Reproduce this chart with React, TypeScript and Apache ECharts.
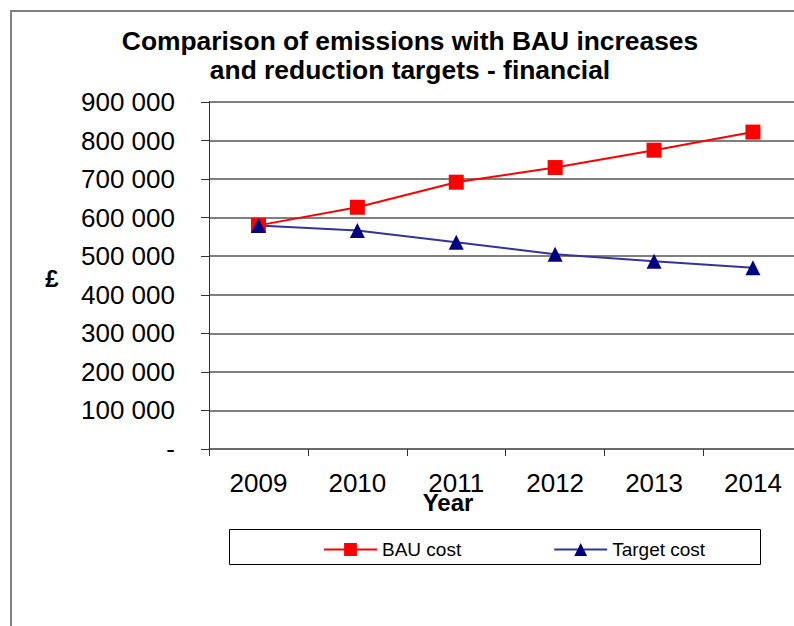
import React, { useEffect, useRef } from "react";
import * as echarts from "echarts";

const categories = ["2009", "2010", "2011", "2012", "2013", "2014"];
const bauCost = [580000, 627000, 692000, 730000, 775000, 822000];
const targetCost = [580000, 567000, 536000, 505000, 487000, 470000];
const titleLines = ["Comparison of emissions with BAU increases", "and reduction targets - financial"];
const seriesNames = ["BAU cost", "Target cost"];

const FONT = "'Liberation Sans', Arial, sans-serif";

function fmt(v: number): string {
  if (v === 0) return "-";
  const s = String(Math.round(v));
  return s.replace(/\B(?=(\d{3})+(?!\d))/g, " ");
}

export default function App() {
  const ref = useRef<HTMLDivElement>(null);
  useEffect(() => {
    if (!ref.current) return;
    const chart = echarts.init(ref.current, null, { renderer: "svg" });
    chart.setOption({
      animation: false,
      backgroundColor: "#ffffff",
      grid: { left: 209, top: 102, height: 347, width: 593.4, outerBoundsMode: "none", containLabel: false },
      graphic: [
        {
          type: "rect",
          shape: { x: 11, y: 11, width: 900, height: 900 },
          style: { fill: "none", stroke: "#808080", lineWidth: 2 },
          silent: true,
          z: -10,
        },
        {
          type: "text",
          style: {
            text: titleLines.join("\n"),
            x: 410,
            y: 26,
            textAlign: "center",
            textVerticalAlign: "top",
            fontFamily: FONT,
            fontWeight: "bold",
            fontSize: 26.4,
            lineHeight: 29,
            fill: "#000",
          },
        },
        {
          type: "text",
          style: {
            text: "£",
            x: 52,
            y: 278,
            textAlign: "center",
            textVerticalAlign: "middle",
            fontFamily: FONT,
            fontWeight: "bold",
            fontSize: 24,
            fill: "#000",
          },
        },
        {
          type: "text",
          style: {
            text: "Year",
            x: 448,
            y: 502,
            textAlign: "center",
            textVerticalAlign: "middle",
            fontFamily: FONT,
            fontWeight: "bold",
            fontSize: 24,
            fill: "#000",
          },
        },
        {
          type: "rect",
          shape: { x: 229.5, y: 529.5, width: 531, height: 35 },
          style: { fill: "none", stroke: "#000", lineWidth: 1 },
          silent: true,
        },
      ],
      legend: {
        left: 323,
        top: 540,
        padding: 0,
        itemWidth: 53,
        itemHeight: 16,
        itemGap: 92,
        textStyle: { fontFamily: FONT, fontSize: 19, color: "#000" },
        data: seriesNames,
      },
      xAxis: {
        type: "category",
        data: categories,
        boundaryGap: true,
        axisLine: { show: true, lineStyle: { color: "#666", width: 1.5 } },
        axisTick: { show: true, length: 7, lineStyle: { color: "#333", width: 1 } },
        axisLabel: { fontFamily: FONT, fontSize: 26, lineHeight: 26, color: "#000", margin: 21, interval: 0 },
        splitLine: { show: false },
      },
      yAxis: {
        type: "value",
        min: 0,
        max: 900000,
        interval: 100000,
        axisLine: { show: true, lineStyle: { color: "#333", width: 1 } },
        axisTick: { show: true, length: 8, lineStyle: { color: "#333", width: 1 } },
        axisLabel: { fontFamily: FONT, fontSize: 26, color: "#000", margin: 34, formatter: fmt },
        splitLine: { show: true, lineStyle: { color: "#555", width: 1.5 } },
      },
      series: [
        {
          name: seriesNames[0],
          type: "line",
          data: bauCost,
          symbol: "rect",
          symbolSize: 15,
          itemStyle: { color: "#ff0000" },
          lineStyle: { color: "#ff0000", width: 2 },
        },
        {
          name: seriesNames[1],
          type: "line",
          data: targetCost,
          symbol: "triangle",
          symbolSize: 15,
          itemStyle: { color: "#000080" },
          lineStyle: { color: "#333399", width: 2 },
        },
      ],
    });
    return () => chart.dispose();
  }, []);
  return <div ref={ref} style={{ position: "fixed", left: 0, top: 0, width: 794, height: 626 }} />;
}
